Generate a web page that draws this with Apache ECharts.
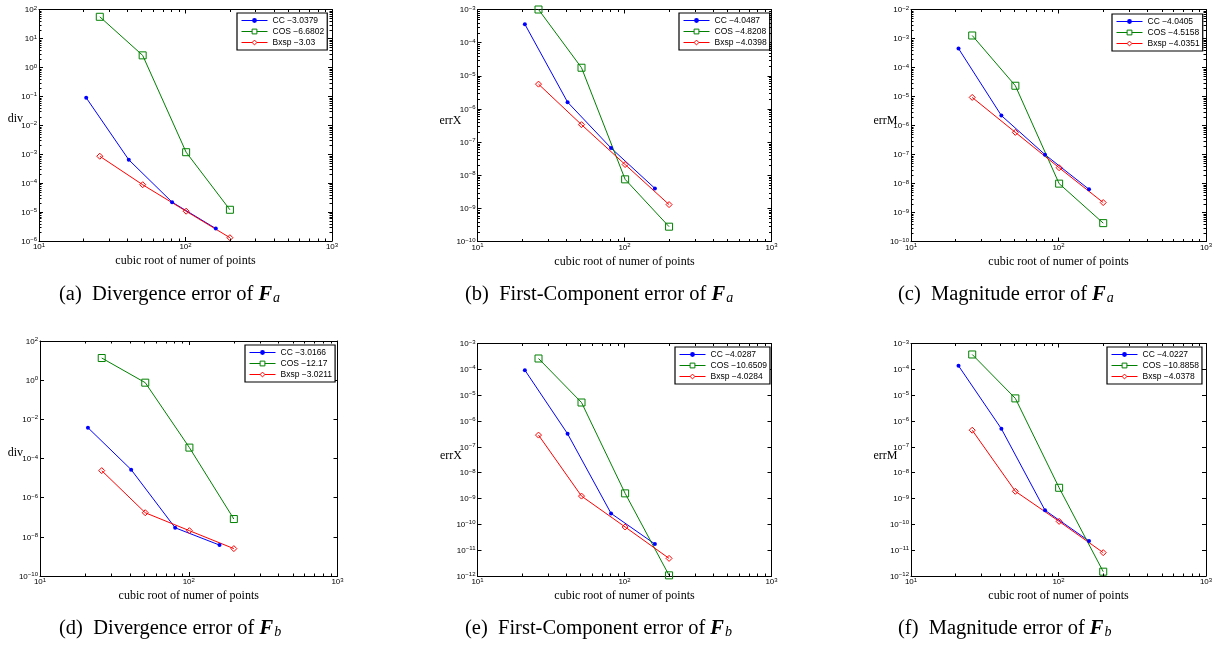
<!DOCTYPE html>
<html>
<head>
<meta charset="utf-8">
<script src="https://cdn.jsdelivr.net/npm/echarts@6/dist/echarts.min.js"></script>
<style>
html,body{margin:0;padding:0;background:#fff;}
#chart{width:1219px;height:646px;}
</style>
</head>
<body>
<div id="chart"></div>
<script>
// ---------------- data ----------------
const xCC   = [21, 41, 81, 161];
const xCOS  = [26, 51, 101, 201];
const xBxsp = [26, 51, 101, 201];

const aCC   = [8.9e-2, 6.4e-4, 2.2e-5, 2.7e-6];
const aCOS  = [56, 2.6, 1.17e-3, 1.2e-5];
const aBxsp = [8.5e-4, 8.8e-5, 1.07e-5, 1.3e-6];
const aNames = ['CC \u22123.0379', 'COS \u22126.6802', 'Bxsp \u22123.03'];

const bCC   = [3.6e-4, 1.6e-6, 6.6e-8, 4.0e-9];
const bCOS  = [1.0e-3, 1.75e-5, 7.5e-9, 2.8e-10];
const bBxsp = [5.6e-6, 3.35e-7, 2.1e-8, 1.3e-9];
const bNames = ['CC \u22124.0487', 'COS \u22124.8208', 'Bxsp \u22124.0398'];

const cCC   = [4.5e-4, 2.2e-6, 9.9e-8, 6.3e-9];
const cCOS  = [1.27e-3, 2.35e-5, 9.9e-9, 4.3e-10];
const cBxsp = [9.3e-6, 5.8e-7, 3.5e-8, 2.2e-9];
const cNames = ['CC \u22124.0405', 'COS \u22124.5158', 'Bxsp \u22124.0351'];

const dCC   = [3.75e-3, 2.7e-5, 2.9e-8, 3.8e-9];
const dCOS  = [13.5, 0.745, 3.6e-4, 8.1e-8];
const dBxsp = [2.4e-5, 1.7e-7, 2.06e-8, 2.5e-9];
const dNames = ['CC \u22123.0166', 'COS \u221212.17', 'Bxsp \u22123.0211'];

const eCC   = [9.3e-5, 3.2e-7, 2.65e-10, 1.73e-11];
const eCOS  = [2.63e-4, 5.2e-6, 1.58e-9, 1.06e-12];
const eBxsp = [2.85e-7, 1.24e-9, 7.9e-11, 4.8e-12];
const eNames = ['CC \u22124.0287', 'COS \u221210.6509', 'Bxsp \u22124.0284'];

const fCC   = [1.37e-4, 5.0e-7, 3.5e-10, 2.26e-11];
const fCOS  = [3.76e-4, 7.5e-6, 2.6e-9, 1.47e-12];
const fBxsp = [4.4e-7, 1.9e-9, 1.3e-10, 8.0e-12];
const fNames = ['CC \u22124.0227', 'COS \u221210.8858', 'Bxsp \u22124.0378'];

const yTitles = ['div', 'errX', 'errM', 'div', 'errX', 'errM'];
const xTitle = 'cubic root of numer of points';
const captionLetters = ['a', 'b', 'c', 'd', 'e', 'f'];
const captionTexts = ['Divergence error of ', 'First-Component error of ', 'Magnitude error of ',
                      'Divergence error of ', 'First-Component error of ', 'Magnitude error of '];
const captionSubs = ['a', 'a', 'a', 'b', 'b', 'b'];

// axis ranges as decade exponents [min, max, step]
const xDecades = [1, 3, 1];
const yDecades = [[-6, 2, 1], [-10, -3, 1], [-10, -2, 1], [-10, 2, 2], [-12, -3, 1], [-12, -3, 1]];
const xMinorTicks = [20, 30, 40, 50, 60, 70, 80, 90, 200, 300, 400, 500, 600, 700, 800, 900];
const minorMantissas = [2, 3, 4, 5, 6, 7, 8, 9];

// ---------------- layout ----------------
const SANS = '"Liberation Sans", Arial, Helvetica, sans-serif';
const SERIF = '"Liberation Serif", "Times New Roman", Times, serif';

const grids = [
  {left: 39,    top: 9.5,   width: 293,   height: 231.5},
  {left: 477.5, top: 9.5,   width: 294,   height: 232},
  {left: 911,   top: 9.5,   width: 295,   height: 232},
  {left: 40,    top: 341,   width: 297.5, height: 235},
  {left: 477.5, top: 343.5, width: 294,   height: 232.5},
  {left: 911,   top: 343.5, width: 295,   height: 232.5}
];
const legendPos = [
  {left: 237, top: 13}, {left: 679, top: 13}, {left: 1112, top: 14},
  {left: 245, top: 345}, {left: 675, top: 347}, {left: 1107, top: 347}
];
const yTitlePos = [
  {x: 23, y: 119}, {x: 461.5, y: 121}, {x: 897.5, y: 121},
  {x: 23, y: 453}, {x: 462, y: 456}, {x: 897.5, y: 456}
];
const captionPos = [
  {x: 59, y: 293}, {x: 465, y: 293}, {x: 898, y: 293},
  {x: 59, y: 627}, {x: 465, y: 627}, {x: 898, y: 627}
];
const yMinorOn = [true, true, true, false, false, false];

const panelData = [
  [aCC, aCOS, aBxsp, aNames], [bCC, bCOS, bBxsp, bNames], [cCC, cCOS, cBxsp, cNames],
  [dCC, dCOS, dBxsp, dNames], [eCC, eCOS, eBxsp, eNames], [fCC, fCOS, fBxsp, fNames]
];

const BLUE = '#0000ff', GREEN = '#008000', RED = '#ff0000';

function expLabel(v) {
  const e = Math.round(Math.log10(v));
  return '{b|10}{s|' + (e < 0 ? '\u2212' + (-e) : String(e)) + '}';
}
const labelRich = {
  b: {fontSize: 8, fontFamily: SANS, color: '#000', lineHeight: 9, verticalAlign: 'bottom'},
  s: {fontSize: 6, fontFamily: SANS, color: '#000', lineHeight: 6, verticalAlign: 'top', padding: [0, 0, 6, 0]}
};
const axisLineStyle = {show: true, lineStyle: {color: '#000', width: 1}};

const option = {
  animation: false,
  backgroundColor: '#fff',
  grid: [], xAxis: [], yAxis: [], legend: [], series: [], graphic: []
};

grids.forEach((g, i) => {
  option.grid.push(Object.assign({outerBoundsMode: 'none', containLabel: false, show: false}, g));
  const [ymin, ymax, ystep] = yDecades[i];
  const xBase = {
    type: 'log', logBase: 10, gridIndex: i,
    min: Math.pow(10, xDecades[0]), max: Math.pow(10, xDecades[1]), interval: xDecades[2],
    axisLine: axisLineStyle,
    axisTick: {show: true, inside: true, length: 4, lineStyle: {color: '#000', width: 1}},
    splitLine: {show: false}, minorTick: {show: false}, minorSplitLine: {show: false}
  };
  option.xAxis.push(Object.assign({}, xBase, {
    position: 'bottom',
    axisLabel: {show: true, margin: 1, formatter: expLabel, rich: labelRich, hideOverlap: false,
                showMinLabel: true, showMaxLabel: true},
    name: xTitle, nameLocation: 'middle', nameGap: 14,
    nameTextStyle: {fontFamily: SERIF, fontSize: 12, color: '#000'}
  }));
  option.xAxis.push(Object.assign({}, xBase, {position: 'top', axisLabel: {show: false}}));
  const yBase = {
    type: 'log', logBase: 10, gridIndex: i,
    min: Math.pow(10, ymin), max: Math.pow(10, ymax), interval: ystep,
    axisLine: axisLineStyle,
    axisTick: {show: true, inside: true, length: 4, lineStyle: {color: '#000', width: 1}},
    splitLine: {show: false}, minorTick: {show: false}, minorSplitLine: {show: false}
  };
  option.yAxis.push(Object.assign({}, yBase, {
    position: 'left',
    axisLabel: {show: true, margin: 2, formatter: expLabel, rich: labelRich, hideOverlap: false,
                showMinLabel: true, showMaxLabel: true}
  }));
  option.yAxis.push(Object.assign({}, yBase, {position: 'right', axisLabel: {show: false}}));

  const [sCC, sCOS, sBx, names] = panelData[i];
  const xi = 2 * i, yi = 2 * i;
  option.series.push({
    type: 'line', name: names[0], xAxisIndex: xi, yAxisIndex: yi,
    data: xCC.map((x, k) => [x, sCC[k]]),
    symbol: 'circle', symbolSize: 4, showSymbol: true,
    lineStyle: {color: BLUE, width: 1}, itemStyle: {color: BLUE, borderColor: BLUE, borderWidth: 0}
  });
  option.series.push({
    type: 'line', name: names[1], xAxisIndex: xi, yAxisIndex: yi,
    data: xCOS.map((x, k) => [x, sCOS[k]]),
    symbol: 'rect', symbolSize: 7, showSymbol: true,
    lineStyle: {color: GREEN, width: 1}, itemStyle: {color: 'rgba(255,255,255,0)', borderColor: GREEN, borderWidth: 1}
  });
  option.series.push({
    type: 'line', name: names[2], xAxisIndex: xi, yAxisIndex: yi,
    data: xBxsp.map((x, k) => [x, sBx[k]]),
    symbol: 'diamond', symbolSize: 6, showSymbol: true,
    lineStyle: {color: RED, width: 1}, itemStyle: {color: 'rgba(255,255,255,0)', borderColor: RED, borderWidth: 1}
  });

  // minor ticks on the x axis (bottom and top), placed through the axis scale
  option.series.push({
    type: 'custom', xAxisIndex: xi, yAxisIndex: yi, silent: true, clip: false, z: 5,
    data: xMinorTicks.map(v => [v, Math.pow(10, ymin)]),
    renderItem: function (params, api) {
      const cs = params.coordSys;
      const px = Math.round(api.coord([api.value(0), api.value(1)])[0]) + 0.5;
      const yb = cs.y + cs.height, yt = cs.y;
      const st = {stroke: '#000', lineWidth: 1};
      return {type: 'group', children: [
        {type: 'line', shape: {x1: px, y1: yb, x2: px, y2: yb - 2.5}, style: st},
        {type: 'line', shape: {x1: px, y1: yt, x2: px, y2: yt + 2.5}, style: st}
      ]};
    }
  });
  if (yMinorOn[i]) {
    const yMinor = [];
    for (let e = ymin; e < ymax; e++) minorMantissas.forEach(m => yMinor.push(m * Math.pow(10, e)));
    option.series.push({
      type: 'custom', xAxisIndex: xi, yAxisIndex: yi, silent: true, clip: false, z: 5,
      data: yMinor.map(v => [10, v]),
      renderItem: function (params, api) {
        const cs = params.coordSys;
        const py = Math.round(api.coord([api.value(0), api.value(1)])[1]) + 0.5;
        const xl = cs.x, xr = cs.x + cs.width;
        const st = {stroke: '#000', lineWidth: 1};
        return {type: 'group', children: [
          {type: 'line', shape: {x1: xl, y1: py, x2: xl + 2.5, y2: py}, style: st},
          {type: 'line', shape: {x1: xr, y1: py, x2: xr - 2.5, y2: py}, style: st}
        ]};
      }
    });
  }

  option.legend.push({
    data: [
      {name: names[0], itemStyle: {color: BLUE, borderColor: BLUE, borderWidth: 0}, lineStyle: {color: BLUE, width: 1}},
      {name: names[1], itemStyle: {color: '#fff', borderColor: GREEN, borderWidth: 1}, lineStyle: {color: GREEN, width: 1}},
      {name: names[2], itemStyle: {color: '#fff', borderColor: RED, borderWidth: 1}, lineStyle: {color: RED, width: 1}}
    ],
    orient: 'vertical',
    left: legendPos[i].left, top: legendPos[i].top,
    backgroundColor: '#fff', borderColor: '#000', borderWidth: 1.2, borderRadius: 0,
    padding: [3, 3, 3, 4], itemGap: 2, itemWidth: 26, itemHeight: 6,
    lineStyle: {width: 1},
    textStyle: {fontFamily: SANS, fontSize: 8.5, color: '#000', lineHeight: 9, padding: [0, 0, 0, 0]},
    selectedMode: false, inactiveColor: '#000'
  });

  option.graphic.push({
    type: 'text', x: yTitlePos[i].x, y: yTitlePos[i].y, silent: true,
    style: {text: yTitles[i], fill: '#000', font: '12px ' + SERIF, align: 'right', verticalAlign: 'middle'}
  });
  option.graphic.push({
    type: 'text', x: captionPos[i].x, y: captionPos[i].y, silent: true,
    style: {
      text: '{n|(' + captionLetters[i] + ')  ' + captionTexts[i] + '}{F|F}{sub|' + captionSubs[i] + '}',
      align: 'left', verticalAlign: 'middle',
      rich: {
        n: {fontFamily: SERIF, fontSize: 20.5, fill: '#000', lineHeight: 24, verticalAlign: 'bottom'},
        F: {fontFamily: SERIF, fontSize: 20.5, fontWeight: 'bold', fontStyle: 'italic', fill: '#000', lineHeight: 24, verticalAlign: 'bottom'},
        sub: {fontFamily: SERIF, fontSize: 14, fontStyle: 'italic', fill: '#000', lineHeight: 13, padding: [6, 0, 0, 1], verticalAlign: 'bottom'}
      }
    }
  });
});

const chart = echarts.init(document.getElementById('chart'), null, {renderer: 'canvas'});
chart.setOption(option);
</script>
</body>
</html>
